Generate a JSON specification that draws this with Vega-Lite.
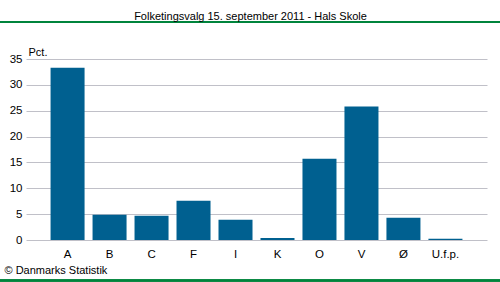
{
  "$schema": "https://vega.github.io/schema/vega-lite/v6.json",
  "autosize": "none",
  "width": 461,
  "height": 181,
  "padding": {"left": 26, "top": 59, "right": 13, "bottom": 42},
  "background": "#ffffff",
  "config": {
    "view": {"stroke": null},
    "font": "Liberation Sans",
    "axis": {"labelFont": "Liberation Sans", "titleFont": "Liberation Sans", "labelColor": "#000000", "titleColor": "#000000"},
    "axisY": {
      "titleAngle": 0,
      "titleAlign": "left",
      "titleBaseline": "middle",
      "titleFontSize": 11,
      "titleFontWeight": "normal",
      "titleX": 2,
      "titleY": -7,
      "tickCount": 7,
      "labelOverlap": false,
      "labelFontSize": 11.5,
      "labelPadding": 4,
      "ticks": false,
      "domain": false,
      "grid": true,
      "gridColor": "#c0c0c8",
      "gridOpacity": 1,
      "gridWidth": 1
    }
  },
  "title": {
    "text": "Folketingsvalg 15. september 2011 - Hals Skole",
    "font": "Liberation Sans",
    "fontSize": 11,
    "fontWeight": "normal",
    "color": "#000000",
    "anchor": "middle",
    "frame": "group",
    "dx": -6,
    "offset": -1
  },
  "data": {
    "values": [
      {"parti": "A", "pct": 33.3},
      {"parti": "B", "pct": 4.9},
      {"parti": "C", "pct": 4.7},
      {"parti": "F", "pct": 7.6},
      {"parti": "I", "pct": 3.9},
      {"parti": "K", "pct": 0.4},
      {"parti": "O", "pct": 15.7},
      {"parti": "V", "pct": 25.8},
      {"parti": "Ø", "pct": 4.3},
      {"parti": "U.f.p.", "pct": 0.25}
    ]
  },
  "layer": [
    {
      "mark": {"type": "bar", "color": "#006090"},
      "encoding": {
        "x": {
          "field": "parti",
          "type": "nominal",
          "sort": null,
          "scale": {"paddingInner": 0.19, "paddingOuter": 0.585},
          "axis": {
            "title": "© Danmarks Statistik",
            "titleFontSize": 11,
            "titleFontWeight": "normal",
            "titleAnchor": "start",
            "titleAlign": "left",
            "titleBaseline": "middle",
            "titleX": -22,
            "titleY": 30,
            "labelAngle": 0,
            "labelFontSize": 11.5,
            "labelPadding": 8,
            "ticks": false,
            "domain": false
          }
        },
        "y": {
          "field": "pct",
          "type": "quantitative",
          "scale": {"domain": [0, 35], "nice": false},
          "axis": {"title": "Pct."}
        }
      }
    },
    {
      "mark": {"type": "rule", "color": "#00843d", "strokeWidth": 1.5, "clip": false},
      "encoding": {
        "x": {"datum": 0, "type": "quantitative", "scale": {"domain": [26, 487], "nice": false, "zero": false}, "axis": null},
        "x2": {"datum": 500},
        "y": {"datum": 42.15, "type": "quantitative"}
      }
    },
    {
      "mark": {"type": "rule", "color": "#00843d", "strokeWidth": 1.5, "clip": false},
      "encoding": {
        "x": {"datum": 0, "type": "quantitative", "scale": {"domain": [26, 487], "nice": false, "zero": false}, "axis": null},
        "x2": {"datum": 500},
        "y": {"datum": -7.85, "type": "quantitative"}
      }
    }
  ],
  "resolve": {"scale": {"x": "independent"}, "axis": {"x": "independent"}}
}
